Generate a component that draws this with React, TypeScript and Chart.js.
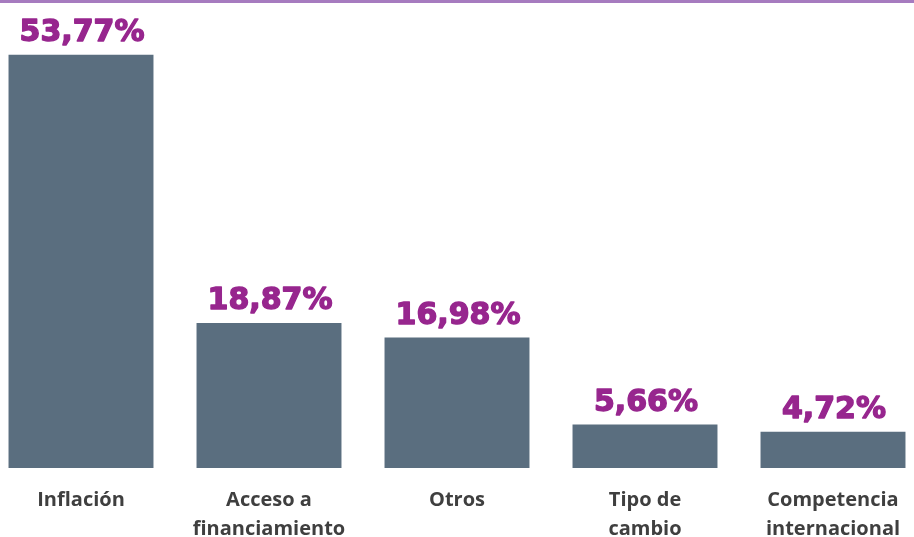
import React, { useEffect, useRef } from "react";
import { Chart, registerables } from "chart.js";

Chart.register(...registerables);

const categories: string[][] = [
  ["Inflación"],
  ["Acceso a", "financiamiento"],
  ["Otros"],
  ["Tipo de", "cambio"],
  ["Competencia", "internacional"],
];
const values: number[] = [53.77, 18.87, 16.98, 5.66, 4.72];

const BAR_COLOR = "#5a6e7f";
const LABEL_COLOR = "#97268e";
const TICK_COLOR = "#3f3f3f";
const TOP_LINE_COLOR = "#a67bbf";

const fmt = (v: number) => v.toFixed(2).replace(".", ",") + "%";

const valueLabels = {
  id: "valueLabels",
  beforeDraw(chart: any) {
    const ctx = chart.ctx;
    ctx.save();
    ctx.fillStyle = TOP_LINE_COLOR;
    ctx.fillRect(0, 0, chart.width, 3);
    ctx.restore();
  },
  afterDatasetsDraw(chart: any) {
    const ctx = chart.ctx;
    const meta = chart.getDatasetMeta(0);
    ctx.save();
    ctx.font = "bold 30px 'DejaVu Sans'";
    ctx.fillStyle = LABEL_COLOR;
    ctx.strokeStyle = LABEL_COLOR;
    ctx.lineWidth = 1.4;
    ctx.lineJoin = "round";
    ctx.textAlign = "center";
    ctx.textBaseline = "alphabetic";
    meta.data.forEach((bar: any, i: number) => {
      const t = fmt(values[i]);
      ctx.fillText(t, bar.x + 1, bar.y - 14);
      ctx.strokeText(t, bar.x + 1, bar.y - 14);
    });
    ctx.restore();
  },
};

export default function App() {
  const ref = useRef<HTMLCanvasElement | null>(null);
  useEffect(() => {
    if (!ref.current) return;
    const chart = new Chart(ref.current, {
      type: "bar",
      data: {
        labels: categories,
        datasets: [
          {
            data: values,
            backgroundColor: BAR_COLOR,
            borderWidth: 0,
            barPercentage: 0.771,
            categoryPercentage: 1,
          },
        ],
      },
      options: {
        animation: false,
        responsive: true,
        maintainAspectRatio: false,
        layout: { padding: { top: 7, bottom: 0, left: 0, right: 0 } },
        plugins: {
          legend: { display: false },
          tooltip: { enabled: false },
        },
        scales: {
          x: {
            grid: { display: false },
            border: { display: false },
            afterFit: (scale: any) => {
              scale.height = 69;
            },
            ticks: {
              color: TICK_COLOR,
              padding: 10,
              maxRotation: 0,
              autoSkip: false,
              font: { family: "'Open Sans'", weight: "bold", size: 20, lineHeight: 1.45 },
            },
          },
          y: {
            display: false,
            min: 0,
            max: 60,
          },
        },
      },
      plugins: [valueLabels],
    });
    return () => chart.destroy();
  }, []);

  return (
    <div style={{ position: "fixed", left: 0, top: 0, width: 914, height: 537, overflow: "hidden", background: "#fff" }}>
      <div style={{ position: "absolute", left: -13, top: 0, width: 940, height: 537 }}>
        <canvas ref={ref} />
      </div>
    </div>
  );
}
